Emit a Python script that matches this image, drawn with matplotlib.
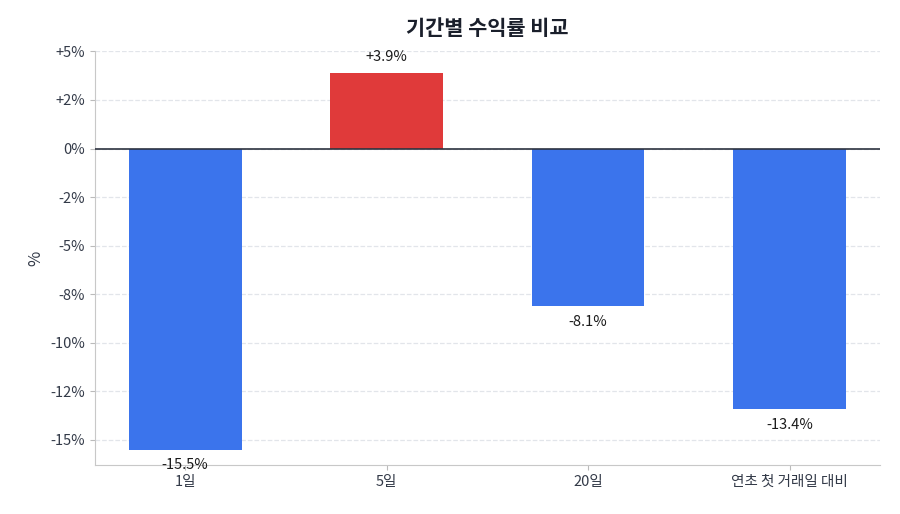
import matplotlib
matplotlib.use("Agg")
import matplotlib.pyplot as plt
from matplotlib.ticker import FuncFormatter, MultipleLocator

plt.rcParams["font.family"] = ["Noto Sans CJK KR", "DejaVu Sans"]

periods = ["1일", "5일", "20일", "연초 첫 거래일 대비"]
returns = [-15.5, 3.9, -8.1, -13.4]

colors = ["#e03a3a" if v > 0 else "#3b74ec" for v in returns]

fig, ax = plt.subplots(figsize=(9, 5.14), dpi=100)
fig.subplots_adjust(left=0.105, right=0.978, top=0.9, bottom=0.095)

x = range(len(periods))
bars = ax.bar(x, returns, width=0.56, color=colors, zorder=2)
ax.axhline(0, color="#2d3340", linewidth=1.2, zorder=3)

for xi, v in zip(x, returns):
    off = 0.45 if v > 0 else -0.45
    ax.text(xi, v + off, f"{v:+.1f}%", ha="center",
            va="bottom" if v > 0 else "top", fontsize=10.5, color="#1a1a1a")

ax.set_xticks(list(x))
ax.set_xticklabels(periods, fontsize=10.5, color="#333a48")
ax.set_xlim(-0.45, 3.45)
ax.set_ylim(-16.3, 5.0)
ax.yaxis.set_major_locator(MultipleLocator(2.5))
ax.yaxis.set_major_formatter(FuncFormatter(
    lambda v, p: ("+" if round(v) > 0 else "") + f"{v:.0f}%"))
ax.tick_params(axis="y", labelsize=10.5, labelcolor="#333a48", color="#bbbbbb")
ax.tick_params(axis="x", color="#bbbbbb")
ax.set_ylabel("%", fontsize=12, color="#333a48")
ax.grid(axis="y", linestyle="--", color="#e2e5ea", linewidth=0.9, zorder=0)
ax.set_axisbelow(True)
for s in ("top", "right"):
    ax.spines[s].set_visible(False)
for s in ("left", "bottom"):
    ax.spines[s].set_color("#c8c8c8")
ax.set_title("기간별 수익률 비교", fontsize=15, fontweight="bold", color="#1a1f2b", pad=12)

fig.savefig("out.png", dpi=100)
